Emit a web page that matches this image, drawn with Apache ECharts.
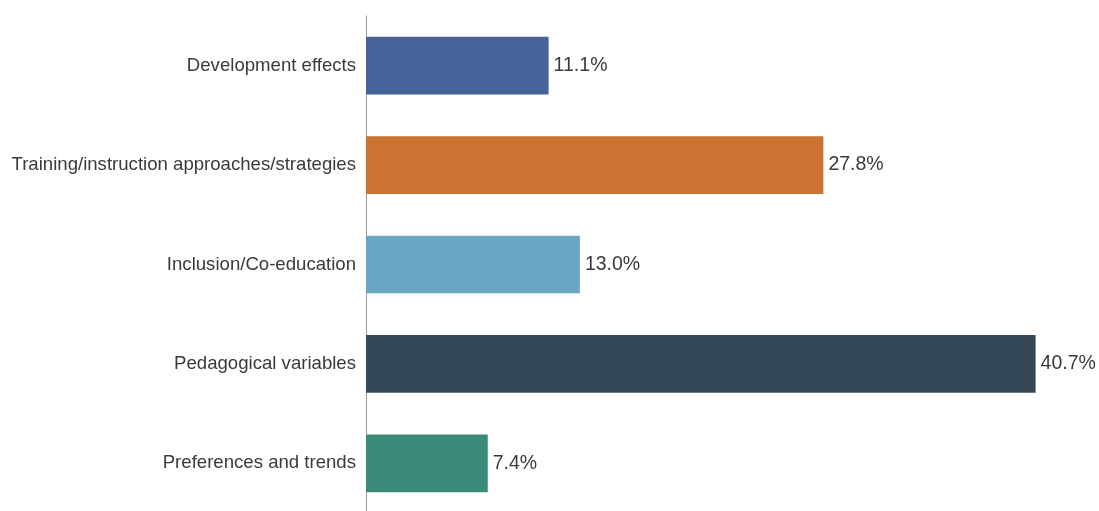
<!DOCTYPE html>
<html>
<head>
<meta charset="utf-8">
<script src="https://cdn.jsdelivr.net/npm/echarts@6/dist/echarts.min.js"></script>
<style>
  html, body { margin: 0; padding: 0; background: #fff; }
  #container { width: 1099px; height: 511px; }
</style>
</head>
<body>
<div id="container"></div>
<script>
// 类别, 从上到下
var categories = [
    'Development effects',
    'Training/instruction approaches/strategies',
    'Inclusion/Co-education',
    'Pedagogical variables',
    'Preferences and trends',
]
var values = [11.1, 27.8, 13.0, 40.7, 7.4]
var colors = ['#45659a', '#cb7330', '#6aa5c4', '#344858', '#3a8c78']

var chartInit = function () {
    var dom = document.getElementById('container')
    var myChart = echarts.init(dom)

    var data = []
    for (let i = 0; i < values.length; i++) {
        data.push({
            value: values[i],
            itemStyle: { color: colors[i] },
        })
    }

    var option = {
        animation: false,
        grid: {
            left: 366,
            right: 42,
            top: 16,
            bottom: -2,
            outerBoundsMode: 'none',
        },
        xAxis: {
            type: 'value',
            min: 0,
            max: 42,
            show: false,
        },
        yAxis: {
            type: 'category',
            data: categories,
            inverse: true,
            axisLine: {
                show: true,
                lineStyle: { color: '#999', width: 1 },
            },
            axisTick: { show: false },
            axisLabel: {
                margin: 10,
                fontFamily: 'Liberation Sans',
                fontSize: 18.6,
                color: '#3a3a3a',
            },
        },
        series: [
            {
                type: 'bar',
                data: data,
                barWidth: '58%',
                label: {
                    show: true,
                    position: 'right',
                    distance: 5,
                    fontFamily: 'Liberation Sans',
                    fontSize: 19.5,
                    color: '#3a3a3a',
                    formatter: function (p) {
                        return p.value.toFixed(1) + '%'
                    },
                },
            },
        ],
    }
    myChart.setOption(option, true)
}

chartInit()
</script>
</body>
</html>
